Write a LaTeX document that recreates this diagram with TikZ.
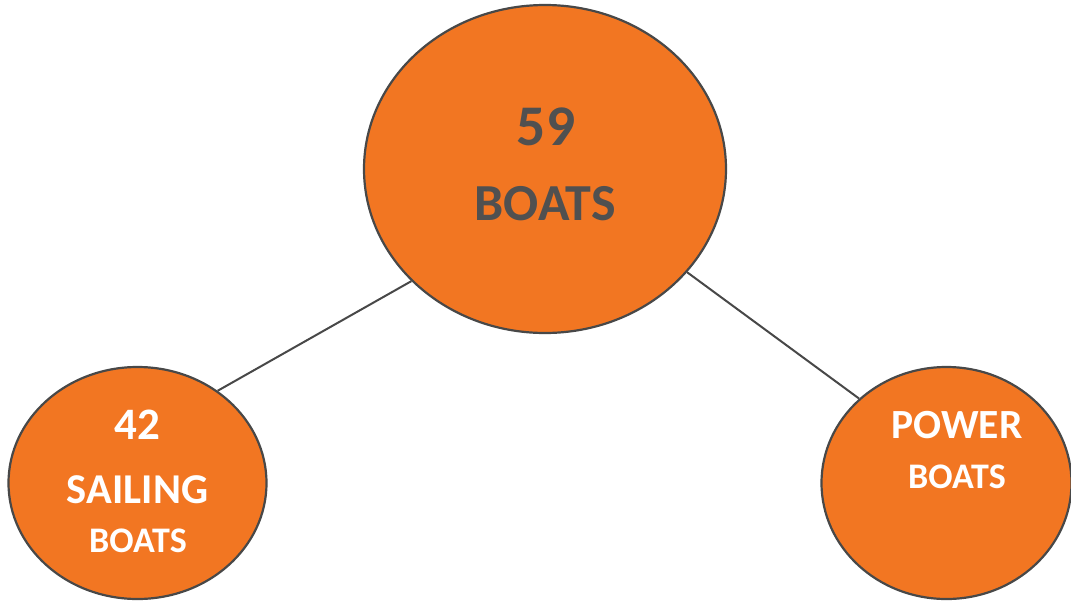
\documentclass[tikz,border=0pt]{standalone}
\usepackage{fontspec}
\setmainfont{Carlito}
\usetikzlibrary{shapes.geometric}
\definecolor{boatorange}{HTML}{F27622}
\definecolor{edgegray}{HTML}{484848}
\definecolor{textgray}{HTML}{505050}
\tikzset{
  bubble/.style={ellipse, draw=edgegray, fill=boatorange, line width=2.2pt, inner sep=0pt},
  link/.style={draw=edgegray, line width=2pt},
  lbl/.style={anchor=base, inner sep=0pt, font=\bfseries},
}
\begin{document}
\begin{tikzpicture}[x=1pt,y=-1pt]
\useasboundingbox (0,0) rectangle (1071,600);
\node[bubble, minimum width=362pt, minimum height=328pt] (top) at (545,169) {};
\node[bubble, minimum width=258pt, minimum height=232pt] (left) at (137.5,483) {};
\node[bubble, minimum width=250pt, minimum height=232pt] (right) at (946.5,483) {};
\draw[link] (top.220) -- (left.49);
\draw[link] (top.324.5) -- (right.136);
\node[lbl, text=textgray, font=\bfseries\fontsize{57.5}{57.5}\selectfont] (n59) at (546,145) {59};
\node[lbl, text=textgray, font=\bfseries\fontsize{52}{52}\selectfont] (tboats) at (545,220) {BOATS};
\node[lbl, text=white, font=\bfseries\fontsize{45}{45}\selectfont] (n42) at (137.5,439) {42};
\node[lbl, text=white, font=\bfseries\fontsize{42.5}{42.5}\selectfont] (sail) at (137.5,503) {SAILING};
\node[lbl, text=white, font=\bfseries\fontsize{36}{36}\selectfont] (lboats) at (138,552) {BOATS};
\node[lbl, text=white, font=\bfseries\fontsize{41.5}{41.5}\selectfont] (power) at (957,438) {POWER};
\node[lbl, text=white, font=\bfseries\fontsize{36}{36}\selectfont] (rboats) at (957,488) {BOATS};
\end{tikzpicture}
\end{document}
